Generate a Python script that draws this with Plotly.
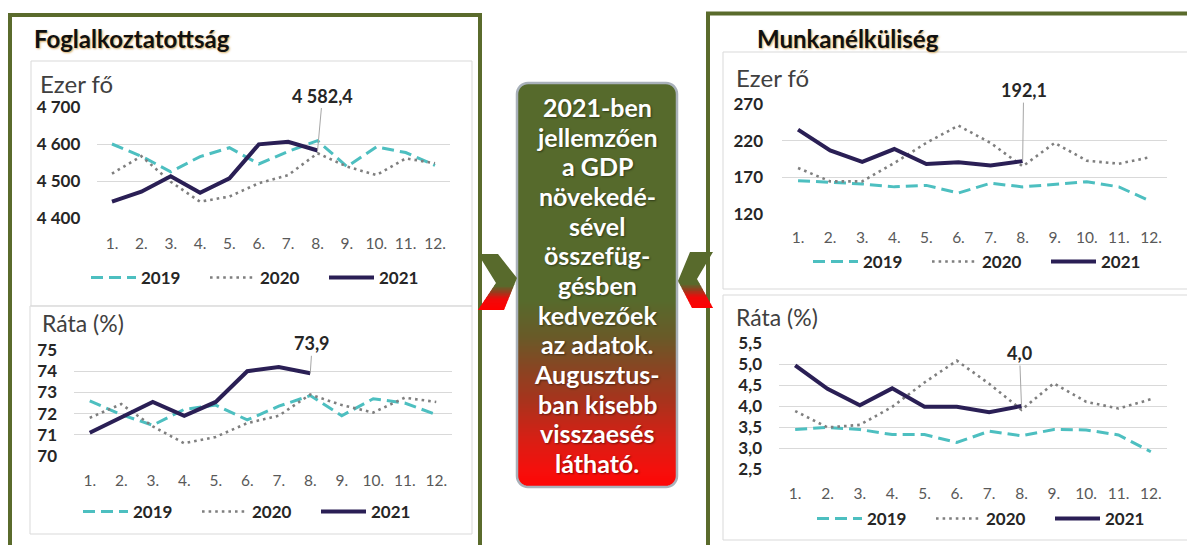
import plotly.graph_objects as go
import math

# page body has an 8px margin: the figure is sized to fill the rest of the window
OFF = 8
W, H = 1195 - OFF, 545 - OFF
def px(x): return (x - OFF) / W
def py(y): return 1 - (y - OFF) / H

# ---------------- data ----------------
months = ["1.", "2.", "3.", "4.", "5.", "6.", "7.", "8.", "9.", "10.", "11.", "12."]
years = ["2019", "2020", "2021"]

emp_2019 = [4600, 4567, 4525, 4566, 4590, 4546, 4580, 4609, 4539, 4592, 4577, 4542]
emp_2020 = [4520, 4567, 4498, 4444, 4458, 4494, 4516, 4575, 4539, 4516, 4561, 4548]
emp_2021 = [4444, 4471, 4513, 4468, 4507, 4599, 4606, 4582.4]

emprate_2019 = [72.6, 71.95, 71.45, 72.2, 72.4, 71.7, 72.35, 72.85, 71.9, 72.7, 72.5, 71.95]
emprate_2020 = [71.8, 72.45, 71.4, 70.6, 70.9, 71.55, 71.9, 72.9, 72.4, 72.05, 72.75, 72.55]
emprate_2021 = [71.1, 71.8, 72.55, 71.9, 72.55, 74.0, 74.2, 73.9]

unemp_2019 = [165.5, 163, 161, 157, 159, 148.6, 162, 157, 161, 164, 157, 137]
unemp_2020 = [182.7, 164.5, 164.5, 189.5, 217, 240.5, 217, 185, 217, 192.7, 188.6, 197.7]
unemp_2021 = [235, 206.8, 191, 208.6, 188.2, 190.5, 186, 192.1]

unrate_2019 = [3.44, 3.49, 3.44, 3.32, 3.32, 3.13, 3.40, 3.29, 3.44, 3.43, 3.31, 2.91]
unrate_2020 = [3.88, 3.49, 3.55, 3.98, 4.56, 5.08, 4.53, 3.91, 4.54, 4.10, 3.94, 4.16]
unrate_2021 = [4.97, 4.41, 4.02, 4.42, 3.98, 3.98, 3.85, 4.00]

titles = ["Foglalkoztatottság", "Munkanélküliség"]
unit_labels = ["Ezer fő", "Ráta (%)", "Ezer fő", "Ráta (%)"]
message_lines = ["2021-ben", "jellemzően", "a GDP", "növekedé-", "sével", "összefüg-",
                 "gésben", "kedvezőek", "az adatok.", "Augusztus-", "ban kisebb",
                 "visszaesés", "látható."]

# ---------------- styles ----------------
FONT = "Lato, 'Open Sans', sans-serif"
GREEN = "#5a6b2c"
C2019 = "#4dbfc0"
C2020 = "#7f7f7f"
C2021 = "#2a1f55"
GRID = "#d9d9d9"

fig = go.Figure()

panels = [
    dict(ax="", leg="legend", data=(emp_2019, emp_2020, emp_2021), xr=(97.3, 449.7), yr=(107, 218),
         rng=(4400, 4700), dtick=100, fmt=",d", so=16, xso=14, legxy=(86, 278), unit=(38, 83, 24),
         lab=dict(ax=5, ay=-55)),
    dict(ax="2", leg="legend2", data=(emprate_2019, emprate_2020, emprate_2021), xr=(74, 452), yr=(350, 456),
         rng=(70, 75), dtick=1, fmt="d", so=16, xso=13, legxy=(78, 512), unit=(40, 323, 23),
         lab=dict(ax=2, ay=-30)),
    dict(ax="3", leg="legend3", data=(unemp_2019, unemp_2020, unemp_2021), xr=(782, 1167), yr=(104, 214),
         rng=(120, 270), dtick=50, fmt="d", so=18, xso=12, legxy=(808, 262), unit=(734, 78, 24),
         lab=dict(ax=1, ay=-71)),
    dict(ax="4", leg="legend4", data=(unrate_2019, unrate_2020, unrate_2021), xr=(779, 1167), yr=(343, 469),
         rng=(2.5, 5.5), dtick=0.5, fmt=".1f", so=16, xso=13, legxy=(812, 519), unit=(734, 317, 23),
         lab=dict(ax=-2, ay=-53)),
]

styles = [
    dict(color=C2019, width=3, dash="12px,6px"),
    dict(color=C2020, width=2.6, dash="2.6px,4px"),
    dict(color=C2021, width=4, dash="solid"),
]

layout_extra = {}
annotations = []
for i, p in enumerate(panels):
    sfx = p["ax"]
    for yname, vals, st in zip(years, p["data"], styles):
        fig.add_trace(go.Scatter(
            x=months[:len(vals)], y=vals, mode="lines", name=yname,
            line=st, xaxis="x" + sfx, yaxis="y" + sfx, legend=p["leg"],
            hoverinfo="x+y+name"))
    layout_extra["xaxis" + sfx] = dict(
        domain=[px(p["xr"][0]), px(p["xr"][1])], anchor="y" + sfx, type="category",
        categoryorder="array", categoryarray=months, range=[-0.5, 11.5],
        showgrid=False, zeroline=False, showline=False, ticks="",
        tickfont=dict(family=FONT, size=15.5, color="#595959"), ticklabelstandoff=p["xso"])
    layout_extra["yaxis" + sfx] = dict(
        domain=[py(p["yr"][1]), py(p["yr"][0])], anchor="x" + sfx,
        range=list(p["rng"]), dtick=p["dtick"], tick0=p["rng"][0], tickformat=p["fmt"],
        showgrid=True, gridcolor=GRID, gridwidth=1, zeroline=False, showline=False, ticks="",
        tickfont=dict(family=FONT, size=17, color="#262626", weight="bold"),
        ticklabelstandoff=p["so"])
    layout_extra[p["leg"]] = dict(
        orientation="h", x=px(p["legxy"][0]), y=py(p["legxy"][1]), xanchor="left", yanchor="middle",
        font=dict(family=FONT, size=17, color="#262626", weight="bold"),
        bgcolor="rgba(0,0,0,0)", entrywidth=59, entrywidthmode="pixels", itemwidth=45)
    annotations.append(dict(
        xref="paper", yref="paper", x=px(p["unit"][0]), y=py(p["unit"][1]),
        xanchor="left", yanchor="middle", showarrow=False, text=unit_labels[i],
        font=dict(family=FONT, size=p["unit"][2], color="#404040")))
    series21 = p["data"][2]
    last = series21[-1]
    if p["fmt"] == ",d":
        txt = f"{last:,.1f}".replace(",", " ").replace(".", ",")
    else:
        txt = f"{last:.1f}".replace(".", ",")
    annotations.append(dict(
        xref="x" + sfx, yref="y" + sfx, x=len(series21) - 1, y=last,
        text=txt, showarrow=True, arrowhead=0, arrowwidth=1, arrowcolor="#a6a6a6",
        ax=p["lab"]["ax"], ay=p["lab"]["ay"], standoff=0,
        font=dict(family=FONT, size=18, color="#262626", weight="bold")))

for t, (x, y) in zip(titles, [(32, 38), (755, 38)]):
    annotations.append(dict(
        xref="paper", yref="paper", x=px(x), y=py(y), xanchor="left", yanchor="middle",
        showarrow=False, text=t,
        font=dict(family=FONT, size=24, color="#111111", weight="bold",
                  shadow="1px 1px 2px rgba(200,140,40,0.7)")))

for k, line in enumerate(message_lines):
    annotations.append(dict(
        xref="paper", yref="paper", x=px(597), y=py(107 + k * 29.67), xanchor="center",
        yanchor="middle", showarrow=False, text=line,
        font=dict(family=FONT, size=25, color="white", weight="bold",
                  shadow="1px 1px 2px rgba(0,0,0,0.45)")))

# ---------------- decorative shapes ----------------
def path_of(poly):
    return "M " + " L ".join(f"{px(x):.5f},{py(y):.5f}" for x, y in poly) + " Z"

def clip(poly, keep, yv):
    out = []
    for i in range(len(poly)):
        cur, prev = poly[i], poly[i - 1]
        def inter(p, q):
            t = (yv - p[1]) / (q[1] - p[1])
            return (p[0] + t * (q[0] - p[0]), yv)
        if keep(cur):
            if not keep(prev):
                out.append(inter(prev, cur))
            out.append(cur)
        elif keep(prev):
            out.append(inter(prev, cur))
    return out

def band(poly, ya, yb):
    p = clip(poly, lambda q: q[1] >= ya, ya)
    if not p:
        return []
    return clip(p, lambda q: q[1] <= yb, yb)

def col_at(stops, y):
    if y <= stops[0][0]:
        c = stops[0][1]
    elif y >= stops[-1][0]:
        c = stops[-1][1]
    else:
        for (y0, c0), (y1, c1) in zip(stops, stops[1:]):
            if y0 <= y <= y1:
                t = (y - y0) / (y1 - y0)
                c = tuple(c0[j] + t * (c1[j] - c0[j]) for j in range(3))
                break
    return "rgb(%d,%d,%d)" % tuple(int(round(v)) for v in c)

def gradient_shapes(poly, stops, y_start, y_end, step):
    shapes = []
    ys = [min(q[1] for q in poly)]
    y = y_start
    while y < y_end:
        ys.append(y)
        y += step
    ys.append(max(q[1] for q in poly))
    for a, b in zip(ys, ys[1:]):
        piece = band(poly, a, b + 0.6)
        if len(piece) >= 3:
            shapes.append(dict(type="path", xref="paper", yref="paper", path=path_of(piece),
                               fillcolor=col_at(stops, (a + b) / 2), line=dict(width=0),
                               layer="above"))
    return shapes

def rounded_rect(x0, y0, x1, y1, r, n=8):
    pts = []
    corners = [(x1 - r, y0 + r, -90), (x1 - r, y1 - r, 0), (x0 + r, y1 - r, 90), (x0 + r, y0 + r, 180)]
    for cx, cy, a0 in corners:
        for k in range(n + 1):
            a = math.radians(a0 + 90 * k / n)
            pts.append((cx + r * math.cos(a), cy + r * math.sin(a)))
    return pts

shapes = []
shapes.append(dict(type="rect", xref="paper", yref="paper", x0=px(10), x1=px(480), y0=py(15), y1=py(600),
                   line=dict(color=GREEN, width=4), fillcolor="rgba(0,0,0,0)", layer="below"))
shapes.append(dict(type="rect", xref="paper", yref="paper", x0=px(708), x1=px(1250), y0=py(13.5), y1=py(600),
                   line=dict(color=GREEN, width=4), fillcolor="rgba(0,0,0,0)", layer="below"))
for x0, y0, x1, y1 in [(31, 61, 472, 306), (30, 306, 472, 534), (723, 52, 1189, 289), (723, 295, 1189, 540)]:
    shapes.append(dict(type="rect", xref="paper", yref="paper", x0=px(x0), x1=px(x1), y0=py(y0), y1=py(y1),
                       line=dict(color="#d9d9d9", width=1), fillcolor="rgba(0,0,0,0)", layer="below"))

box = rounded_rect(517, 83, 677, 487, 11)
box_stops = [(300, (86, 106, 44)), (337, (105, 90, 40)), (370, (138, 68, 34)), (403, (170, 50, 28)),
             (437, (213, 32, 21)), (470, (245, 16, 12)), (487, (255, 5, 5))]
shapes += gradient_shapes(box, box_stops, 300, 487, 2)
shapes.append(dict(type="path", xref="paper", yref="paper", path=path_of(box),
                   fillcolor="rgba(0,0,0,0)", line=dict(color="#a9b1ba", width=2.5), layer="above"))

left_chev = [(478, 254), (498, 254), (517, 278), (504, 310), (478, 310), (496, 283)]
right_chev = [(690, 252), (713, 252), (697, 279), (713, 308), (692, 308), (678, 281)]
chev_stops_l = [(286, (88, 106, 44)), (292, (150, 60, 30)), (299, (240, 10, 10)), (310, (255, 0, 0))]
chev_stops_r = [(284, (88, 106, 44)), (290, (150, 60, 30)), (297, (240, 10, 10)), (310, (255, 0, 0))]
shapes += gradient_shapes(left_chev, chev_stops_l, 284, 310, 1.5)
shapes += gradient_shapes(right_chev, chev_stops_r, 282, 308, 1.5)

fig.update_layout(
    width=W, height=H, autosize=False,
    margin=dict(l=0, r=0, t=0, b=0, autoexpand=False),
    paper_bgcolor="white", plot_bgcolor="rgba(0,0,0,0)",
    separators=", ",
    font=dict(family=FONT),
    annotations=annotations,
    shapes=shapes,
    showlegend=True,
    **layout_extra,
)

fig.write_html("out.html")
